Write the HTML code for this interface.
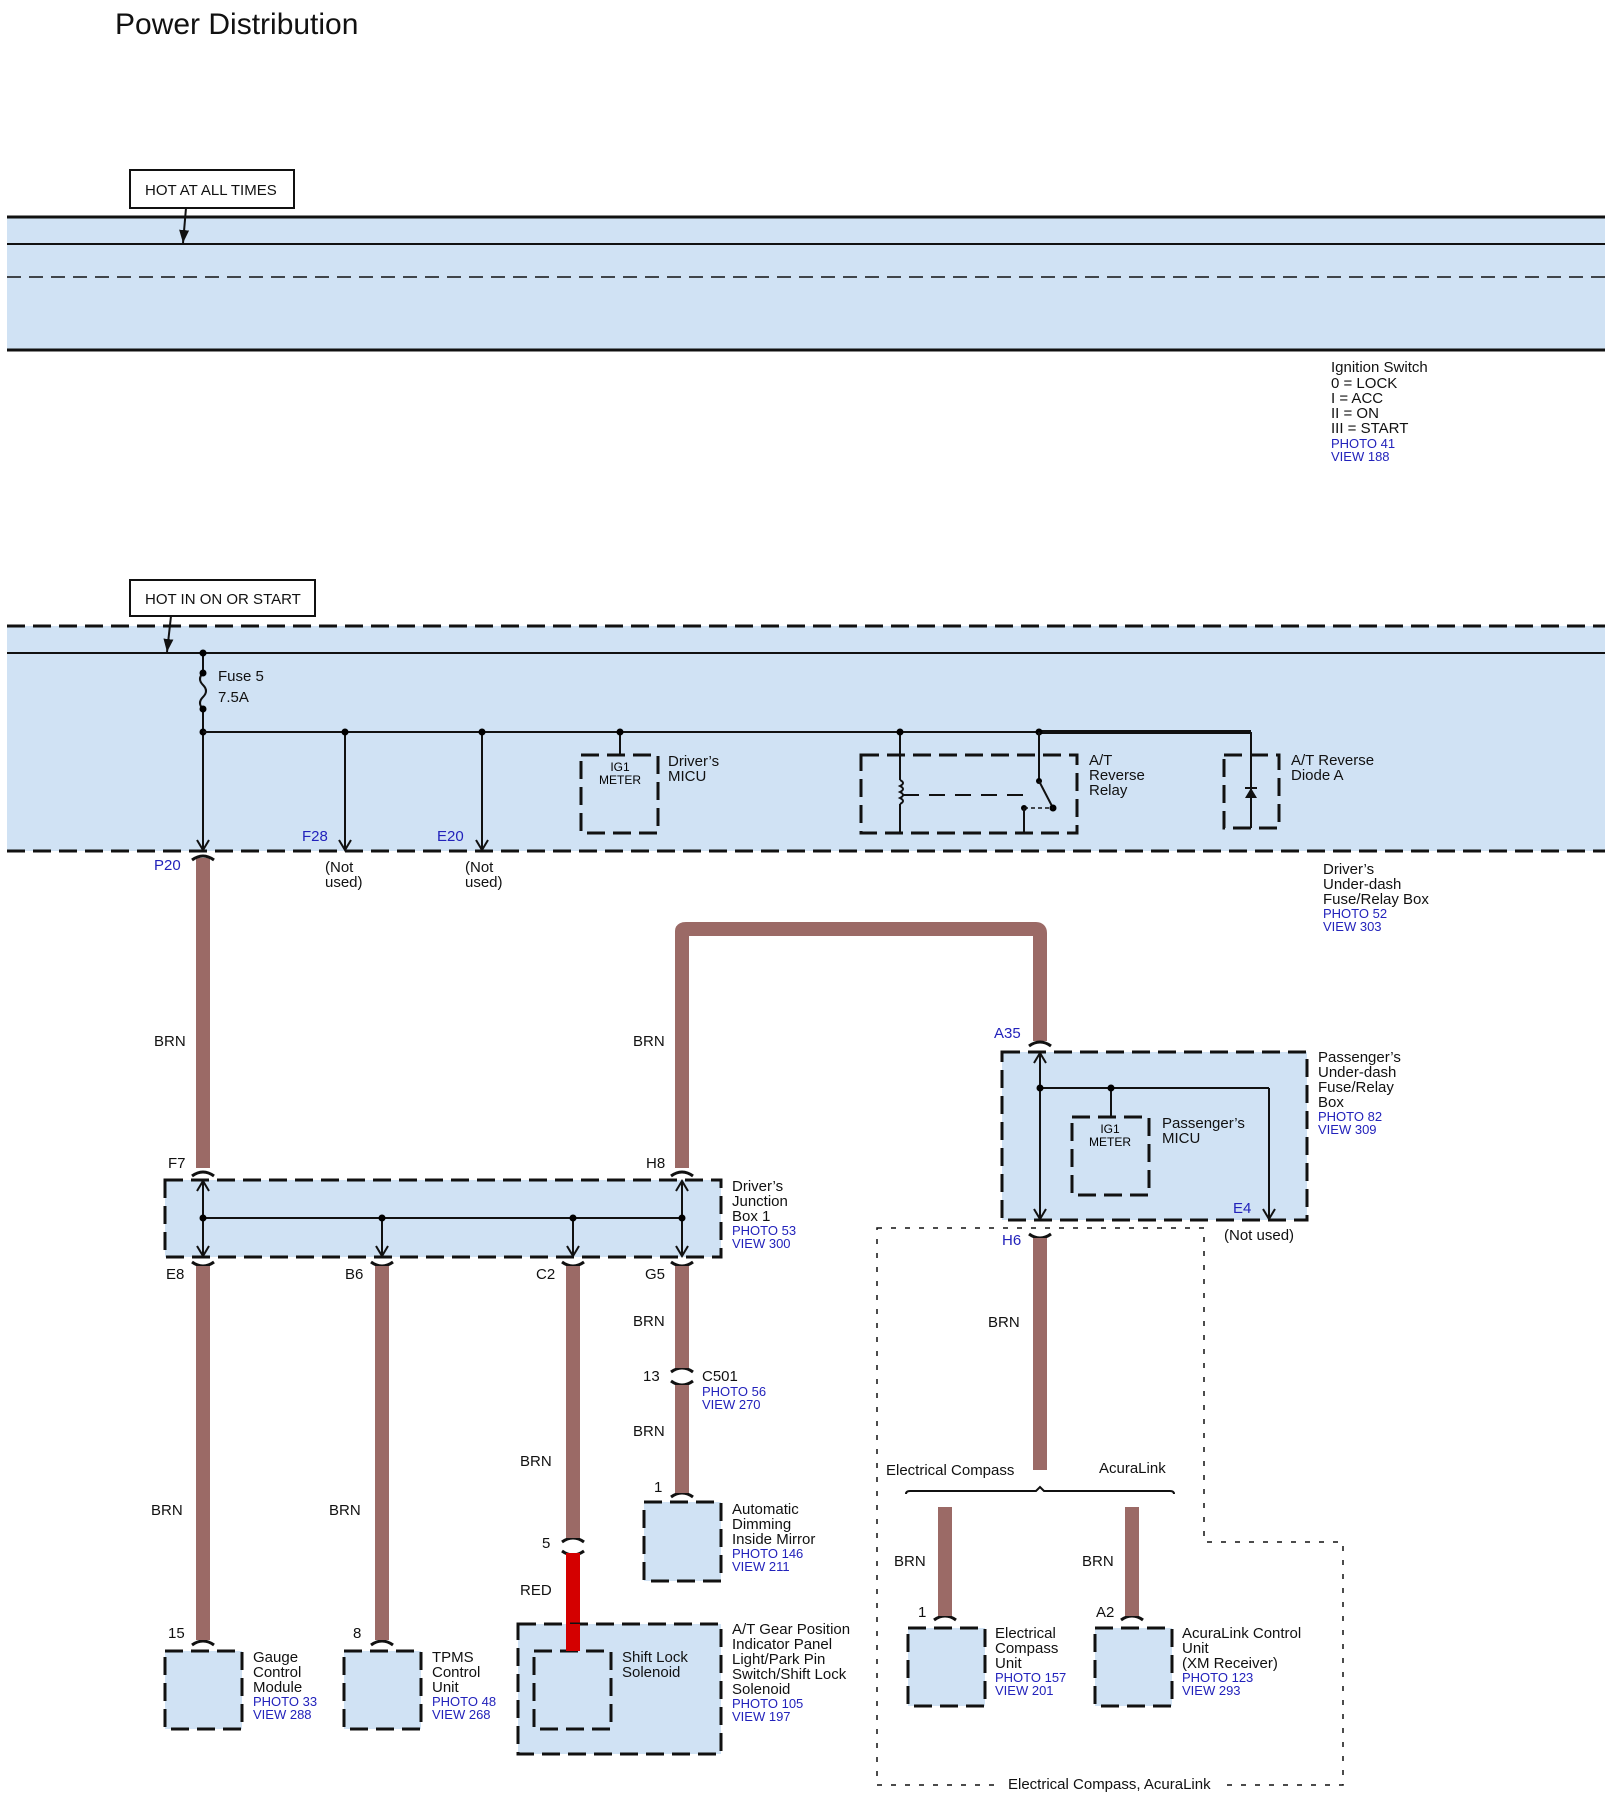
<!DOCTYPE html>
<html><head><meta charset="utf-8"><style>
html,body{margin:0;padding:0;background:#fff;}
svg{display:block;font-family:"Liberation Sans",Arial,sans-serif;}
.t{font-size:15px;fill:#111;}
.b{font-size:13px;fill:#2222bb;}
.bl{font-size:15px;fill:#2222bb;}
.w{stroke:#9b6a66;stroke-width:14;fill:none;}
.k{stroke:#111;stroke-width:2;fill:none;}
.dash{stroke:#111;stroke-width:3;fill:#d0e2f4;stroke-dasharray:18,8;}
.cap{stroke:#111;stroke-width:3;fill:none;}
</style></head><body>
<svg width="1614" height="1806" viewBox="0 0 1614 1806">
<defs>
<marker id="ar" markerWidth="14" markerHeight="14" refX="12" refY="7" orient="auto-start-reverse" markerUnits="userSpaceOnUse">
<path d="M2,1 L12,7 L2,13" stroke="#111" stroke-width="2" fill="none"/></marker>
<marker id="ar2" markerWidth="14" markerHeight="14" refX="13" refY="7" orient="auto" markerUnits="userSpaceOnUse">
<path d="M0,2 L13,7 L0,12 Z" fill="#111"/></marker>
</defs>
<text x="115" y="34" style="font-size:30px" fill="#111">Power Distribution</text>

<!-- band 1 -->
<rect x="7" y="217" width="1598" height="133" fill="#d0e2f4"/>
<line x1="7" y1="217" x2="1605" y2="217" stroke="#111" stroke-width="3"/>
<line x1="7" y1="244" x2="1605" y2="244" stroke="#111" stroke-width="2"/>
<line x1="7" y1="277" x2="1605" y2="277" stroke="#111" stroke-width="1.5" stroke-dasharray="14,8"/>
<line x1="7" y1="350" x2="1605" y2="350" stroke="#111" stroke-width="3"/>
<rect x="130" y="170" width="164" height="38" fill="#fff" stroke="#111" stroke-width="2"/>
<text x="145" y="195" class="t">HOT AT ALL TIMES</text>
<line x1="186" y1="208" x2="183" y2="243" stroke="#111" stroke-width="2" marker-end="url(#ar2)"/>

<text class="t" x="1331" y="372">Ignition Switch</text>
<text class="t" x="1331" y="388">0 = LOCK</text>
<text class="t" x="1331" y="403">I = ACC</text>
<text class="t" x="1331" y="418">II = ON</text>
<text class="t" x="1331" y="433">III = START</text>
<text class="b" x="1331" y="448">PHOTO 41</text>
<text class="b" x="1331" y="461">VIEW 188</text>

<!-- band 2 -->
<rect x="7" y="626" width="1598" height="225" fill="#d0e2f4"/>
<line x1="7" y1="626" x2="1605" y2="626" stroke="#111" stroke-width="3" stroke-dasharray="18,8"/>
<line x1="7" y1="653" x2="1605" y2="653" stroke="#111" stroke-width="2"/>
<line x1="7" y1="851" x2="1605" y2="851" stroke="#111" stroke-width="3" stroke-dasharray="18,8"/>
<rect x="130" y="580" width="185" height="36" fill="#fff" stroke="#111" stroke-width="2"/>
<text x="145" y="604" class="t">HOT IN ON OR START</text>
<line x1="171" y1="616" x2="167" y2="652" stroke="#111" stroke-width="2" marker-end="url(#ar2)"/>

<!-- fuse -->
<line x1="203" y1="653" x2="203" y2="673" class="k"/>
<path d="M203,673 q-6,6 0,12 q6,6 0,12 q-6,6 0,12" class="k"/>
<line x1="203" y1="709" x2="203" y2="850" class="k" marker-end="url(#ar)"/>
<circle cx="203" cy="653" r="3.5"/><circle cx="203" cy="673" r="3.5"/><circle cx="203" cy="709" r="3.5"/><circle cx="203" cy="732" r="3.5"/>
<text class="t" x="218" y="681">Fuse 5</text>
<text class="t" x="218" y="702">7.5A</text>
<line x1="203" y1="732" x2="1039" y2="732" class="k"/>
<line x1="1039" y1="732" x2="1251" y2="732" stroke="#111" stroke-width="4"/>
<line x1="345" y1="732" x2="345" y2="850" class="k" marker-end="url(#ar)"/>
<line x1="482" y1="732" x2="482" y2="850" class="k" marker-end="url(#ar)"/>
<circle cx="345" cy="732" r="3.5"/><circle cx="482" cy="732" r="3.5"/>
<text class="bl" x="302" y="841">F28</text>
<text class="bl" x="437" y="841">E20</text>
<text class="t" x="325" y="872">(Not</text><text class="t" x="325" y="887">used)</text>
<text class="t" x="465" y="872">(Not</text><text class="t" x="465" y="887">used)</text>
<text class="bl" x="154" y="870">P20</text>

<!-- Driver's MICU -->
<line x1="620" y1="732" x2="620" y2="755" class="k"/><circle cx="620" cy="732" r="3.5"/>
<rect x="581" y="755" width="77" height="78" class="dash"/>
<text x="620" y="771" text-anchor="middle" style="font-size:12px">IG1</text>
<text x="620" y="784" text-anchor="middle" style="font-size:12px">METER</text>
<text class="t" x="668" y="766">Driver’s</text><text class="t" x="668" y="781">MICU</text>

<!-- Relay -->
<rect x="861" y="755" width="216" height="78" class="dash"/>
<line x1="900" y1="732" x2="900" y2="780" class="k"/>
<path d="M900,780 q6,3 0,6 q6,3 0,6 q6,3 0,6 q6,3 0,6" class="k"/>
<line x1="900" y1="804" x2="900" y2="833" class="k"/>
<line x1="903" y1="795" x2="1030" y2="795" stroke="#111" stroke-width="2" stroke-dasharray="16,10"/>
<circle cx="900" cy="732" r="3.5"/><circle cx="1039" cy="732" r="3.5"/>
<line x1="1039" y1="732" x2="1039" y2="781" class="k"/><circle cx="1039" cy="781" r="3"/>
<line x1="1039" y1="781" x2="1053" y2="808" class="k"/><circle cx="1053" cy="808" r="3.5"/>
<circle cx="1024" cy="808" r="3"/><line x1="1024" y1="808" x2="1053" y2="808" stroke="#111" stroke-width="1.5" stroke-dasharray="4,3"/>
<line x1="1024" y1="808" x2="1024" y2="833" class="k"/>
<text class="t" x="1089" y="765">A/T</text><text class="t" x="1089" y="780">Reverse</text><text class="t" x="1089" y="795">Relay</text>

<!-- Diode -->
<rect x="1224" y="755" width="55" height="73" class="dash"/>
<line x1="1251" y1="732" x2="1251" y2="828" class="k"/>
<path d="M1245,798 L1257,798 L1251,788 Z" fill="#111"/><line x1="1245" y1="788" x2="1257" y2="788" class="k"/>
<text class="t" x="1291" y="765">A/T Reverse</text><text class="t" x="1291" y="780">Diode A</text>

<text class="t" x="1323" y="874">Driver’s</text>
<text class="t" x="1323" y="889">Under-dash</text>
<text class="t" x="1323" y="904">Fuse/Relay Box</text>
<text class="b" x="1323" y="918">PHOTO 52</text>
<text class="b" x="1323" y="931">VIEW 303</text>

<!-- wires -->
<path class="w" d="M203,858 V1168"/>
<path class="w" d="M682,1168 V931 Q682,929 686,929 H1036 Q1040,929 1040,933 V1041" stroke-linejoin="round"/>
<text class="t" x="154" y="1046">BRN</text>
<text class="t" x="633" y="1046">BRN</text>

<!-- Driver's junction box -->
<rect x="165" y="1180" width="556" height="77" class="dash"/>
<line x1="203" y1="1181" x2="203" y2="1256" class="k" marker-end="url(#ar)" marker-start="url(#ar)"/>
<line x1="682" y1="1181" x2="682" y2="1256" class="k" marker-end="url(#ar)" marker-start="url(#ar)"/>
<line x1="203" y1="1218" x2="682" y2="1218" class="k"/>
<line x1="382" y1="1218" x2="382" y2="1256" class="k" marker-end="url(#ar)"/>
<line x1="573" y1="1218" x2="573" y2="1256" class="k" marker-end="url(#ar)"/>
<circle cx="203" cy="1218" r="3.5"/><circle cx="382" cy="1218" r="3.5"/><circle cx="573" cy="1218" r="3.5"/><circle cx="682" cy="1218" r="3.5"/>
<text class="t" x="732" y="1191">Driver’s</text><text class="t" x="732" y="1206">Junction</text><text class="t" x="732" y="1221">Box 1</text>
<text class="b" x="732" y="1235">PHOTO 53</text><text class="b" x="732" y="1248">VIEW 300</text>
<text class="t" x="168" y="1168">F7</text><text class="t" x="646" y="1168">H8</text>
<text class="t" x="166" y="1279">E8</text><text class="t" x="345" y="1279">B6</text><text class="t" x="536" y="1279">C2</text><text class="t" x="645" y="1279">G5</text>

<!-- caps -->
<g class="cap">
<path d="M192,860 Q203,852 214,860"/>
<path d="M192,1176 Q203,1168 214,1176"/>
<path d="M671,1176 Q682,1168 693,1176"/>
<path d="M192,1262 Q203,1270 214,1262"/><path d="M371,1262 Q382,1270 393,1262"/>
<path d="M562,1262 Q573,1270 584,1262"/><path d="M671,1262 Q682,1270 693,1262"/>
<path d="M1029,1046 Q1040,1038 1051,1046"/>
<path d="M1029,1234 Q1040,1242 1051,1234"/>
<path d="M671,1372 Q682,1364 693,1372"/><path d="M671,1381 Q682,1389 693,1381"/>
<path d="M671,1497 Q682,1489 693,1497"/>
<path d="M562,1542 Q573,1534 584,1542"/><path d="M562,1551 Q573,1559 584,1551"/>
<path d="M192,1645 Q203,1637 214,1645"/><path d="M371,1645 Q382,1637 393,1645"/>
<path d="M934,1620 Q945,1612 956,1620"/><path d="M1121,1620 Q1132,1612 1143,1620"/>
</g>

<path class="w" d="M203,1266 V1640"/>
<path class="w" d="M382,1266 V1640"/>
<path class="w" d="M573,1266 V1538"/>
<path d="M573,1553 V1650" stroke="#d40000" stroke-width="14"/>
<path class="w" d="M682,1266 V1368 M682,1385 V1493"/>
<text class="t" x="151" y="1515">BRN</text><text class="t" x="329" y="1515">BRN</text>
<text class="t" x="520" y="1466">BRN</text><text class="t" x="520" y="1595">RED</text>
<text class="t" x="633" y="1326">BRN</text><text class="t" x="633" y="1436">BRN</text>
<text class="t" x="643" y="1381">13</text>
<text class="t" x="702" y="1381">C501</text><text class="b" x="702" y="1396">PHOTO 56</text><text class="b" x="702" y="1409">VIEW 270</text>
<text class="t" x="654" y="1492">1</text><text class="t" x="542" y="1548">5</text>
<text class="t" x="168" y="1638">15</text><text class="t" x="353" y="1638">8</text>

<!-- bottom components -->
<rect x="165" y="1651" width="77" height="78" class="dash"/>
<text class="t" x="253" y="1662">Gauge</text><text class="t" x="253" y="1677">Control</text><text class="t" x="253" y="1692">Module</text>
<text class="b" x="253" y="1706">PHOTO 33</text><text class="b" x="253" y="1719">VIEW 288</text>
<rect x="344" y="1651" width="77" height="78" class="dash"/>
<text class="t" x="432" y="1662">TPMS</text><text class="t" x="432" y="1677">Control</text><text class="t" x="432" y="1692">Unit</text>
<text class="b" x="432" y="1706">PHOTO 48</text><text class="b" x="432" y="1719">VIEW 268</text>
<rect x="518" y="1624" width="203" height="130" class="dash"/>
<rect x="534" y="1651" width="77" height="78" class="dash"/>
<path d="M573,1624 V1651" stroke="#d40000" stroke-width="14"/>
<text class="t" x="622" y="1662">Shift Lock</text><text class="t" x="622" y="1677">Solenoid</text>
<text class="t" x="732" y="1634">A/T Gear Position</text><text class="t" x="732" y="1649">Indicator Panel</text>
<text class="t" x="732" y="1664">Light/Park Pin</text><text class="t" x="732" y="1679">Switch/Shift Lock</text>
<text class="t" x="732" y="1694">Solenoid</text>
<text class="b" x="732" y="1708">PHOTO 105</text><text class="b" x="732" y="1721">VIEW 197</text>
<rect x="644" y="1502" width="77" height="79" class="dash"/>
<text class="t" x="732" y="1514">Automatic</text><text class="t" x="732" y="1529">Dimming</text><text class="t" x="732" y="1544">Inside Mirror</text>
<text class="b" x="732" y="1558">PHOTO 146</text><text class="b" x="732" y="1571">VIEW 211</text>

<!-- passenger box -->
<text class="bl" x="994" y="1038">A35</text>
<rect x="1002" y="1052" width="305" height="168" class="dash"/>
<line x1="1040" y1="1053" x2="1040" y2="1219" class="k" marker-end="url(#ar)" marker-start="url(#ar)"/>
<line x1="1040" y1="1088" x2="1269" y2="1088" class="k"/>
<line x1="1269" y1="1088" x2="1269" y2="1219" class="k" marker-end="url(#ar)"/>
<line x1="1111" y1="1088" x2="1111" y2="1117" class="k"/>
<circle cx="1040" cy="1088" r="3.5"/><circle cx="1111" cy="1088" r="3.5"/>
<rect x="1072" y="1117" width="77" height="78" class="dash"/>
<text x="1110" y="1133" text-anchor="middle" style="font-size:12px">IG1</text>
<text x="1110" y="1146" text-anchor="middle" style="font-size:12px">METER</text>
<text class="t" x="1162" y="1128">Passenger’s</text><text class="t" x="1162" y="1143">MICU</text>
<text class="bl" x="1233" y="1213">E4</text>
<text class="t" x="1224" y="1240">(Not used)</text>
<text class="t" x="1318" y="1062">Passenger’s</text><text class="t" x="1318" y="1077">Under-dash</text>
<text class="t" x="1318" y="1092">Fuse/Relay</text><text class="t" x="1318" y="1107">Box</text>
<text class="b" x="1318" y="1121">PHOTO 82</text><text class="b" x="1318" y="1134">VIEW 309</text>
<text class="bl" x="1002" y="1245">H6</text>

<!-- dotted region -->
<path d="M877,1228 H1204 V1542 H1343 V1785 H877 Z" fill="none" stroke="#111" stroke-width="1.5" stroke-dasharray="5,9"/>
<rect x="1000" y="1772" width="220" height="22" fill="#fff"/>
<text class="t" x="1008" y="1789">Electrical Compass, AcuraLink</text>

<path class="w" d="M1040,1238 V1470"/>
<text class="t" x="988" y="1327">BRN</text>
<text class="t" x="886" y="1475">Electrical Compass</text>
<text class="t" x="1099" y="1473">AcuraLink</text>
<path d="M906,1494 Q906,1491 910,1491 H1036 L1040,1487 L1044,1491 H1170 Q1174,1491 1174,1494" class="k"/>
<path class="w" d="M945,1507 V1616"/>
<path class="w" d="M1132,1507 V1616"/>
<text class="t" x="894" y="1566">BRN</text><text class="t" x="1082" y="1566">BRN</text>
<text class="t" x="918" y="1617">1</text><text class="t" x="1096" y="1617">A2</text>
<rect x="908" y="1628" width="77" height="78" class="dash"/>
<text class="t" x="995" y="1638">Electrical</text><text class="t" x="995" y="1653">Compass</text><text class="t" x="995" y="1668">Unit</text>
<text class="b" x="995" y="1682">PHOTO 157</text><text class="b" x="995" y="1695">VIEW 201</text>
<rect x="1095" y="1628" width="77" height="78" class="dash"/>
<text class="t" x="1182" y="1638">AcuraLink Control</text><text class="t" x="1182" y="1653">Unit</text>
<text class="t" x="1182" y="1668">(XM Receiver)</text>
<text class="b" x="1182" y="1682">PHOTO 123</text><text class="b" x="1182" y="1695">VIEW 293</text>
</svg>
</body></html>
